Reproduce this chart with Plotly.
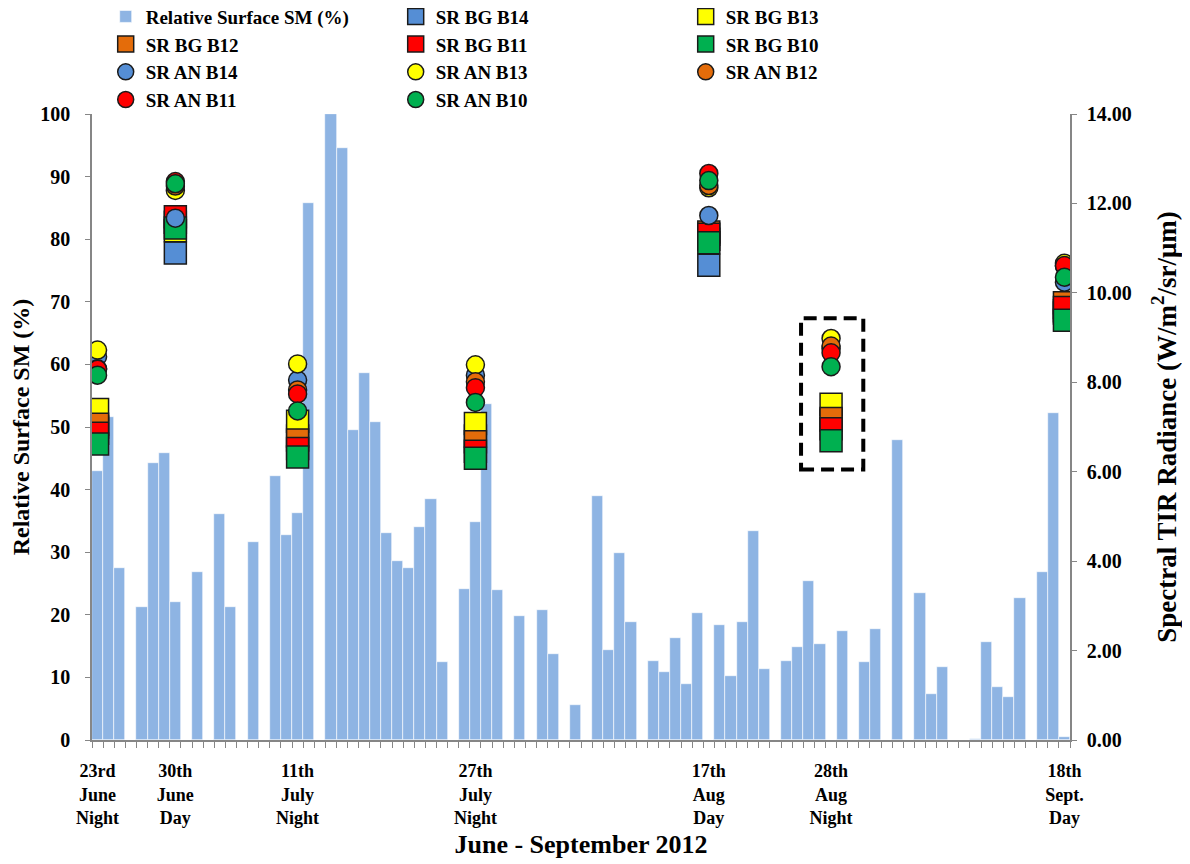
import pandas as pd
import plotly.graph_objects as go

# ---------------- data ----------------
days = pd.date_range("2012-06-23", "2012-09-18", freq="D")  # 88 daily categories

sm_pct = [43.0, 51.6, 27.4, 0, 21.3, 44.3, 45.8, 22.1, 0, 26.9,
          0, 36.1, 21.3, 0, 31.6, 0, 42.2, 32.7, 36.2, 85.8,
          0, 100.0, 94.5, 49.6, 58.6, 50.8, 33.0, 28.6, 27.4, 34.0,
          38.5, 12.4, 0, 24.1, 34.8, 53.6, 23.9, 0, 19.8, 0,
          20.7, 13.7, 0, 5.6, 0, 38.9, 14.3, 29.8, 18.8, 0,
          12.6, 10.8, 16.3, 8.9, 20.3, 0, 18.4, 10.2, 18.8, 33.4,
          11.4, 0, 12.6, 14.9, 25.4, 15.3, 0, 17.4, 0, 12.4,
          17.7, 0, 47.9, 0, 23.5, 7.3, 11.6, 0, 0, 0.2,
          15.6, 8.4, 6.9, 22.7, 0, 26.8, 52.3, 0.5]

overpass = pd.to_datetime(["2012-06-23", "2012-06-30", "2012-07-11", "2012-07-27",
                           "2012-08-17", "2012-08-28", "2012-09-18"])
overpass_labels = ["23rd<br>June<br>Night", "30th<br>June<br>Day", "11th<br>July<br>Night",
                   "27th<br>July<br>Night", "17th<br>Aug<br>Day", "28th<br>Aug<br>Night",
                   "18th<br>Sept.<br>Day"]

sr_bg_b14 = [7.00, 10.89, 6.80, 6.80, 10.62, 7.15, 9.55]
sr_bg_b13 = [7.39, 11.39, 7.13, 7.08, 11.20, 7.51, 9.60]
sr_bg_b12 = [7.06, 11.58, 6.71, 6.67, 11.36, 7.19, 9.78]
sr_bg_b11 = [6.86, 11.70, 6.52, 6.46, 11.31, 6.96, 9.67]
sr_bg_b10 = [6.62, 11.45, 6.33, 6.30, 11.12, 6.69, 9.39]

sr_an_b14 = [8.57, 11.67, 8.05, 8.16, 11.73, 8.75, 10.24]
sr_an_b13 = [8.72, 12.29, 8.41, 8.39, 12.35, 8.98, 10.66]
sr_an_b12 = [8.30, 12.39, 7.83, 8.01, 12.40, 8.81, 10.60]
sr_an_b11 = [8.29, 12.49, 7.74, 7.88, 12.67, 8.66, 10.61]
sr_an_b10 = [8.16, 12.44, 7.36, 7.55, 12.51, 8.35, 10.35]

# ---------------- style ----------------
FONT = "Liberation Serif"
AXIS_GREY = "#868686"
BAR_COLOR = "#8EB4E3"
BAND_COLORS = {"B14": "#558ED5", "B13": "#FFFF00", "B12": "#E46C0A",
               "B11": "#FF0000", "B10": "#00B050"}

fig = go.Figure()

fig.add_trace(go.Bar(
    x=days, y=sm_pct, name="Relative Surface SM (%)",
    marker=dict(color=BAR_COLOR, line=dict(color="white", width=0.6)),
    yaxis="y",
))

bg_series = [("SR BG B14", sr_bg_b14, "B14"), ("SR BG B13", sr_bg_b13, "B13"),
             ("SR BG B12", sr_bg_b12, "B12"), ("SR BG B11", sr_bg_b11, "B11"),
             ("SR BG B10", sr_bg_b10, "B10")]
an_series = [("SR AN B14", sr_an_b14, "B14"), ("SR AN B13", sr_an_b13, "B13"),
             ("SR AN B12", sr_an_b12, "B12"), ("SR AN B11", sr_an_b11, "B11"),
             ("SR AN B10", sr_an_b10, "B10")]

for name, vals, band in bg_series:
    fig.add_trace(go.Scatter(
        x=overpass, y=vals, name=name, mode="markers", yaxis="y2",
        marker=dict(symbol="square", size=22, color=BAND_COLORS[band],
                    line=dict(color="#1a1a1a", width=1.5)),
    ))
for name, vals, band in an_series:
    fig.add_trace(go.Scatter(
        x=overpass, y=vals, name=name, mode="markers", yaxis="y2",
        marker=dict(symbol="circle", size=18, color=BAND_COLORS[band],
                    line=dict(color="#1a1a1a", width=1.5)),
    ))

# dashed highlight box around 28th Aug night
box_day = pd.Timestamp("2012-08-28")
fig.add_shape(type="rect", xref="x", yref="y2",
              x0=box_day - pd.Timedelta(hours=2.7 * 24), x1=box_day + pd.Timedelta(hours=2.9 * 24),
              y0=6.05, y1=9.43,
              line=dict(color="black", width=4, dash="13px,7px"))

half = pd.Timedelta(hours=12)
fig.update_layout(
    width=1182, height=856,
    margin=dict(l=84, r=120, t=106, b=124, autoexpand=False),
    plot_bgcolor="white", paper_bgcolor="white",
    bargap=0,
    font=dict(family=FONT, color="black"),
    legend=dict(orientation="h", x=0.014, y=1.186, xanchor="left", yanchor="top",
                entrywidth=245, font=dict(family=FONT, size=19, weight="bold"),
                bgcolor="rgba(0,0,0,0)"),
    xaxis=dict(
        type="date", range=[days[0] - half, days[-1] + half],
        tickmode="array", tickvals=overpass, ticktext=overpass_labels,
        ticks="", showline=True, linecolor=AXIS_GREY, linewidth=1.5,
        showgrid=False, zeroline=False, automargin=False,
        minor=dict(ticks="outside", ticklen=6, tickcolor=AXIS_GREY, tickwidth=1,
                   tick0=days[0] - half, dtick=86400000, showgrid=False),
        tickfont=dict(family=FONT, size=18, weight="bold"), ticklabelstandoff=14,
        title=dict(text="June - September 2012", font=dict(family=FONT, size=26, weight="bold"),
                   standoff=8),
    ),
    yaxis=dict(
        range=[0, 100], dtick=10, ticks="outside", ticklen=5, tickcolor=AXIS_GREY,
        showline=True, linecolor=AXIS_GREY, linewidth=1.5, showgrid=False, zeroline=False,
        automargin=False,
        tickfont=dict(family=FONT, size=20, weight="bold"), ticklabelstandoff=11,
        title=dict(text="Relative Surface SM (%)", font=dict(family=FONT, size=24, weight="bold"),
                   standoff=10),
    ),
    yaxis2=dict(
        overlaying="y", side="right", range=[0, 14], dtick=2, tickformat=".2f",
        ticks="outside", ticklen=5, tickcolor=AXIS_GREY, automargin=False,
        showline=True, linecolor=AXIS_GREY, linewidth=1.5, showgrid=False, zeroline=False,
        tickfont=dict(family=FONT, size=20, weight="bold"), ticklabelstandoff=6,
        title=dict(text="Spectral TIR Radiance (W/m<sup>2</sup>/sr/μm)",
                   font=dict(family=FONT, size=27, weight="bold"), standoff=26),
    ),
)

fig.write_html("out.html")
